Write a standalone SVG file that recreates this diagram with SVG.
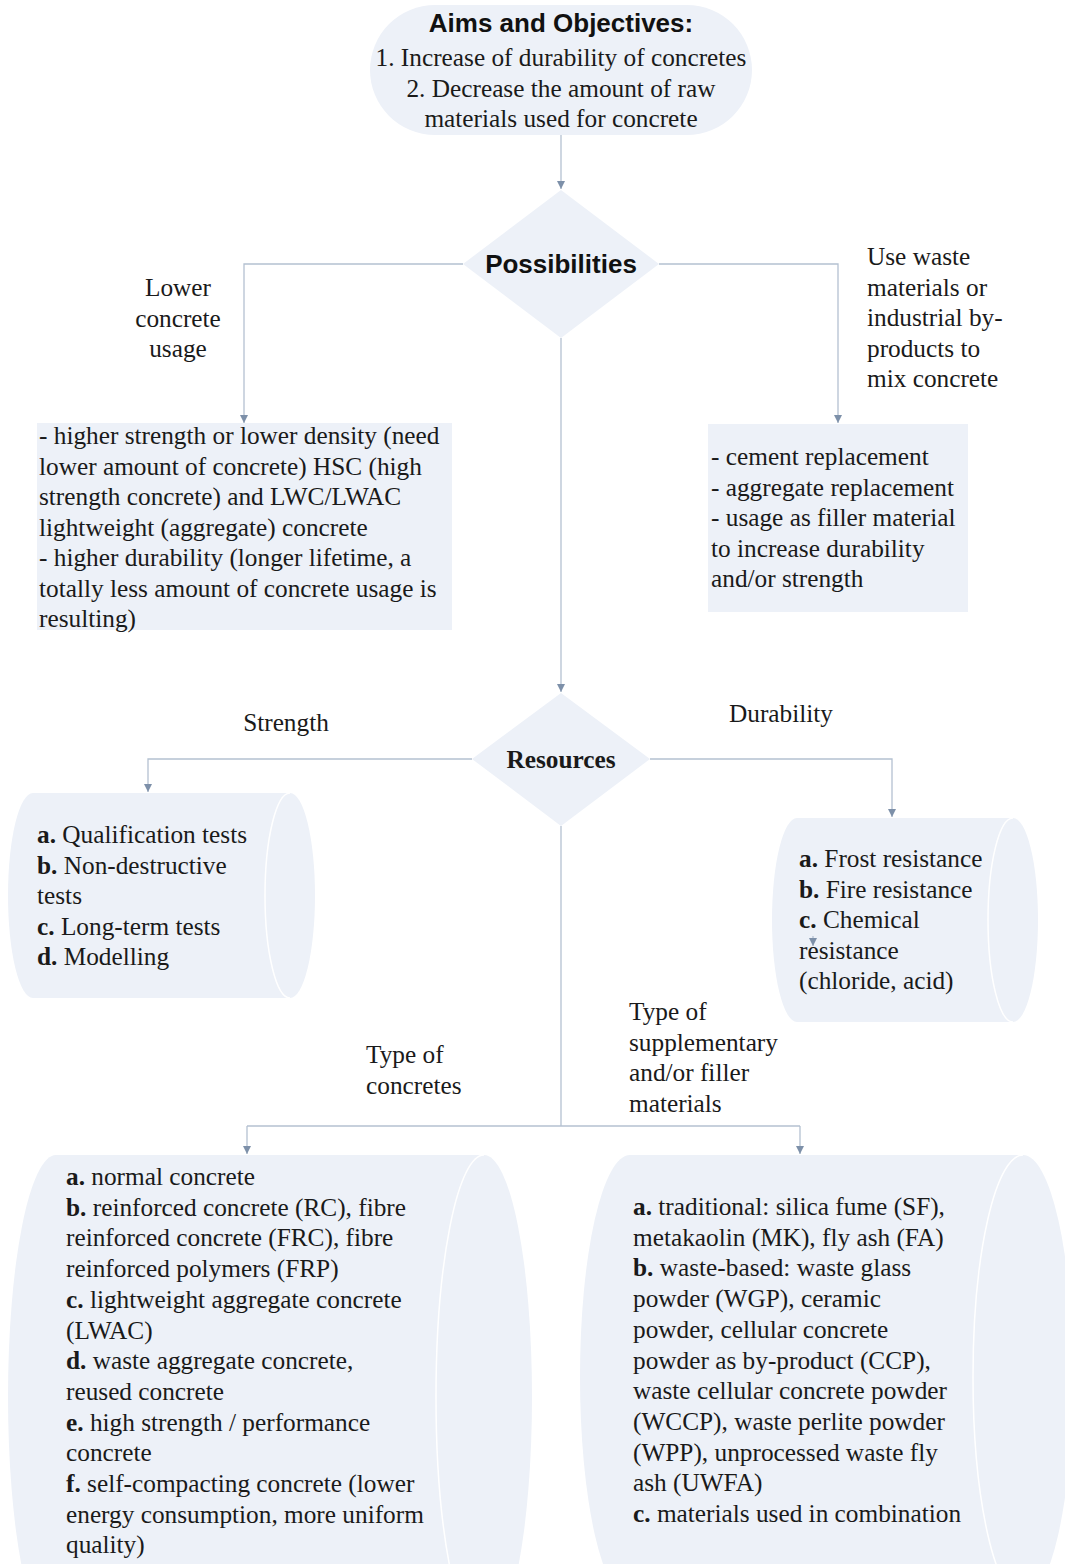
<svg xmlns="http://www.w3.org/2000/svg" width="1065" height="1564" viewBox="0 0 1065 1564">
<style>
.shape{fill:#edf1f8;stroke:none}
.inner{fill:none;stroke:#ffffff;stroke-width:1.5}
.conn{fill:none;stroke:#b4c1d1;stroke-width:1.3}
.t{font-family:"Liberation Serif","Times New Roman",serif;font-size:25.3px;fill:#1a1a1a}
.b{font-weight:bold}
.hs{font-family:"Liberation Sans",Arial,sans-serif;font-weight:bold;font-size:26px;fill:#111111}
</style>
<defs>
<marker id="arr" viewBox="0 0 10 10" refX="10" refY="5" markerWidth="8" markerHeight="8" markerUnits="userSpaceOnUse" orient="auto">
<path d="M0,0 L10,5 L0,10 Z" fill="#7d90a9"/>
</marker>
</defs>
<rect width="1065" height="1564" fill="#ffffff"/>

<g id="connectors">
<path class="conn" d="M561,135 V189" marker-end="url(#arr)"/>
<path class="conn" d="M463,264 H244 V423" marker-end="url(#arr)"/>
<path class="conn" d="M659,264 H838 V423" marker-end="url(#arr)"/>
<path class="conn" d="M561,338 V692" marker-end="url(#arr)"/>
<path class="conn" d="M472,759 H148 V792" marker-end="url(#arr)"/>
<path class="conn" d="M650,759 H892 V817" marker-end="url(#arr)"/>
<path class="conn" d="M561,826 V1126"/>
<path class="conn" d="M247,1126 H800"/>
<path class="conn" d="M247,1126 V1154" marker-end="url(#arr)"/>
<path class="conn" d="M800,1126 V1154" marker-end="url(#arr)"/>
</g>

<g id="aims">
<rect class="shape" x="370" y="5" width="382" height="130" rx="65"/>
<text class="hs" x="561" y="32" text-anchor="middle">Aims and Objectives:</text>
<text class="t" x="561" y="66" text-anchor="middle">1. Increase of durability of concretes</text>
<text class="t" x="561" y="97" text-anchor="middle">2. Decrease the amount of raw</text>
<text class="t" x="561" y="127" text-anchor="middle">materials used for concrete</text>
</g>

<g id="possibilities">
<polygon class="shape" points="561,190 659,264 561,338 463,264"/>
<text class="hs" x="561" y="273" text-anchor="middle" font-size="25.5">Possibilities</text>
</g>

<g id="label-lower">
<text class="t" x="178" y="296" text-anchor="middle">Lower</text>
<text class="t" x="178" y="327" text-anchor="middle">concrete</text>
<text class="t" x="178" y="357" text-anchor="middle">usage</text>
</g>

<g id="label-waste">
<text class="t" x="867" y="265">Use waste</text>
<text class="t" x="867" y="296">materials or</text>
<text class="t" x="867" y="326">industrial by-</text>
<text class="t" x="867" y="357">products to</text>
<text class="t" x="867" y="387">mix concrete</text>
</g>

<g id="lower-box">
<rect class="shape" x="37" y="423" width="415" height="207"/>
<text class="t" x="39" y="444">- higher strength or lower density (need</text>
<text class="t" x="39" y="474.5">lower amount of concrete) HSC (high</text>
<text class="t" x="39" y="505">strength concrete) and LWC/LWAC</text>
<text class="t" x="39" y="535.5">lightweight (aggregate) concrete</text>
<text class="t" x="39" y="566">- higher durability (longer lifetime, a</text>
<text class="t" x="39" y="596.5">totally less amount of concrete usage is</text>
<text class="t" x="39" y="627">resulting)</text>
</g>

<g id="waste-box">
<rect class="shape" x="708" y="424" width="260" height="188"/>
<text class="t" x="711" y="465">- cement replacement</text>
<text class="t" x="711" y="495.5">- aggregate replacement</text>
<text class="t" x="711" y="526">- usage as filler material</text>
<text class="t" x="711" y="556.5">to increase durability</text>
<text class="t" x="711" y="587">and/or strength</text>
</g>

<g id="resources">
<polygon class="shape" points="561,693 650,759 561,826 472,759"/>
<text class="t b" x="561" y="768" text-anchor="middle" font-size="30">Resources</text>
</g>

<g id="label-strength"><text class="t" x="286" y="731" text-anchor="middle">Strength</text></g>
<g id="label-durability"><text class="t" x="781" y="722" text-anchor="middle">Durability</text></g>

<g id="strength">
<path class="shape" d="M33,793 L290,793 A25,102.5 0 0 1 290,998 L33,998 A25,102.5 0 0 1 33,793 Z"/>
<path class="inner" d="M290,793 A25,102.5 0 0 0 290,998"/>
<text class="t" x="37" y="843"><tspan class="b">a.</tspan> Qualification tests</text>
<text class="t" x="37" y="873.6"><tspan class="b">b.</tspan> Non-destructive</text>
<text class="t" x="37" y="904.2">tests</text>
<text class="t" x="37" y="934.8"><tspan class="b">c.</tspan> Long-term tests</text>
<text class="t" x="37" y="965.4"><tspan class="b">d.</tspan> Modelling</text>
</g>

<g id="durability">
<path class="shape" d="M797,818 L1013,818 A25,102 0 0 1 1013,1022 L797,1022 A25,102 0 0 1 797,818 Z"/>
<path class="inner" d="M1013,818 A25,102 0 0 0 1013,1022"/>
<text class="t" x="799" y="867"><tspan class="b">a.</tspan> Frost resistance</text>
<text class="t" x="799" y="897.5"><tspan class="b">b.</tspan> Fire resistance</text>
<text class="t" x="799" y="928"><tspan class="b">c.</tspan> Chemical</text>
<text class="t" x="799" y="958.5">resistance</text>
<text class="t" x="799" y="989">(chloride, acid)</text>
<path class="conn" d="M813,936 V946" marker-end="url(#arr)"/>
</g>

<g id="label-type">
<text class="t" x="366" y="1063">Type of</text>
<text class="t" x="366" y="1094">concretes</text>
</g>

<g id="label-supp">
<text class="t" x="629" y="1020">Type of</text>
<text class="t" x="629" y="1050.5">supplementary</text>
<text class="t" x="629" y="1081">and/or filler</text>
<text class="t" x="629" y="1111.5">materials</text>
</g>

<g id="concretes">
<path class="shape" d="M56,1155 L484,1155 A48,242 0 0 1 484,1639 L56,1639 A48,242 0 0 1 56,1155 Z"/>
<path class="inner" d="M484,1155 A48,242 0 0 0 484,1639"/>
<text class="t" x="66" y="1185"><tspan class="b">a.</tspan> normal concrete</text>
<text class="t" x="66" y="1215.7"><tspan class="b">b.</tspan> reinforced concrete (RC), fibre</text>
<text class="t" x="66" y="1246.4">reinforced concrete (FRC), fibre</text>
<text class="t" x="66" y="1277.1">reinforced polymers (FRP)</text>
<text class="t" x="66" y="1307.8"><tspan class="b">c.</tspan> lightweight aggregate concrete</text>
<text class="t" x="66" y="1338.5">(LWAC)</text>
<text class="t" x="66" y="1369.2"><tspan class="b">d.</tspan> waste aggregate concrete,</text>
<text class="t" x="66" y="1399.9">reused concrete</text>
<text class="t" x="66" y="1430.6"><tspan class="b">e.</tspan> high strength / performance</text>
<text class="t" x="66" y="1461.3">concrete</text>
<text class="t" x="66" y="1492"><tspan class="b">f.</tspan> self-compacting concrete (lower</text>
<text class="t" x="66" y="1522.7">energy consumption, more uniform</text>
<text class="t" x="66" y="1553.4">quality)</text>
</g>

<g id="supplementary">
<path class="shape" d="M630,1155 L1023,1155 A50,222 0 0 1 1023,1599 L630,1599 A50,222 0 0 1 630,1155 Z"/>
<path class="inner" d="M1023,1155 A50,222 0 0 0 1023,1599"/>
<text class="t" x="633" y="1215"><tspan class="b">a.</tspan> traditional: silica fume (SF),</text>
<text class="t" x="633" y="1245.7">metakaolin (MK), fly ash (FA)</text>
<text class="t" x="633" y="1276.4"><tspan class="b">b.</tspan> waste-based: waste glass</text>
<text class="t" x="633" y="1307.1">powder (WGP), ceramic</text>
<text class="t" x="633" y="1337.8">powder, cellular concrete</text>
<text class="t" x="633" y="1368.5">powder as by-product (CCP),</text>
<text class="t" x="633" y="1399.2">waste cellular concrete powder</text>
<text class="t" x="633" y="1429.9">(WCCP), waste perlite powder</text>
<text class="t" x="633" y="1460.6">(WPP), unprocessed waste fly</text>
<text class="t" x="633" y="1491.3">ash (UWFA)</text>
<text class="t" x="633" y="1522"><tspan class="b">c.</tspan> materials used in combination</text>
</g>
</svg>
